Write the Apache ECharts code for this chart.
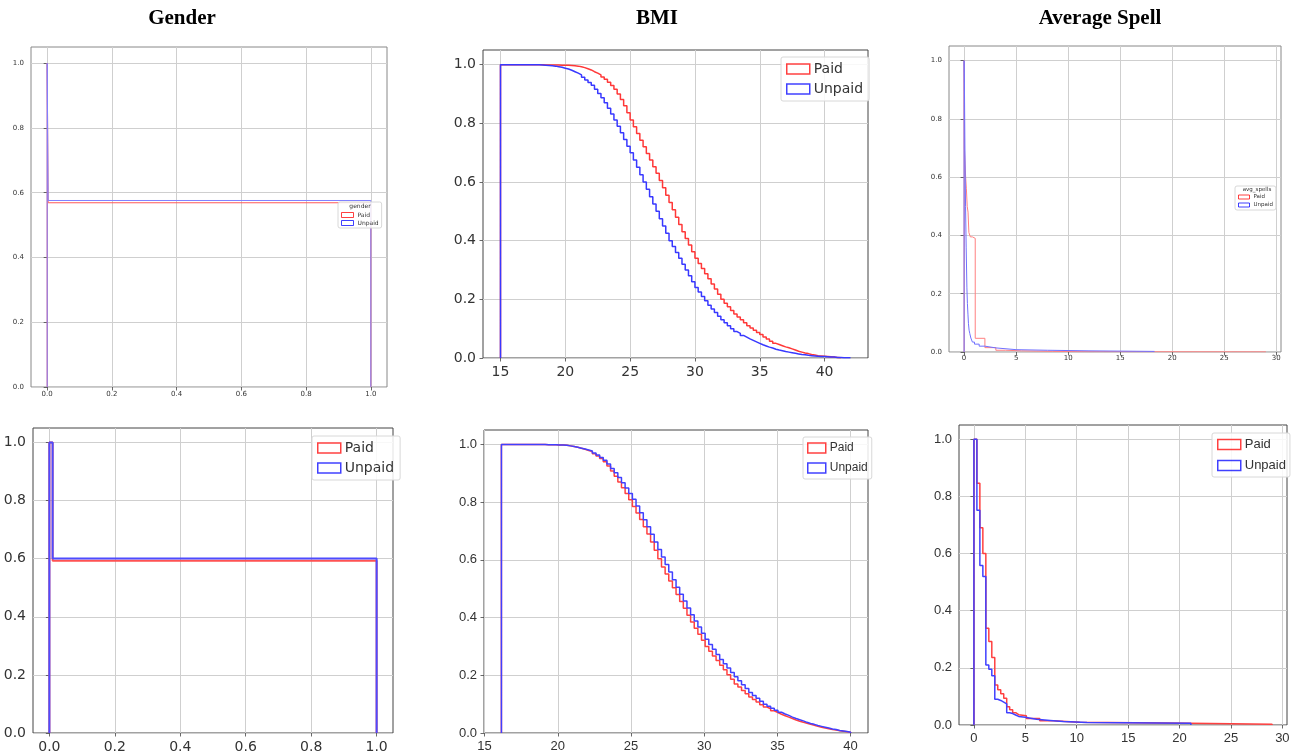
<!DOCTYPE html>
<html>
<head>
<meta charset="utf-8">
<script src="https://cdn.jsdelivr.net/npm/echarts@6/dist/echarts.min.js"></script>
<style>
  html, body { margin: 0; padding: 0; background: #ffffff; }
  #chart { width: 1301px; height: 755px; }
</style>
</head>
<body>
<div id="chart"></div>
<script>
// ---------- tick labels ----------
const shareTicks = [0, 0.2, 0.4, 0.6, 0.8, 1.0];
const genderTicks = [0, 0.2, 0.4, 0.6, 0.8, 1.0];
const bmiTicks = [15, 20, 25, 30, 35, 40];
const spellTicks = [0, 5, 10, 15, 20, 25, 30];

// ---------- Gender: bin edges and survival values ----------
const genderTopEdges = [0, 0.003, 1.0];
const genderTopPaid = [1.0, 0.569];
const genderTopUnpaid = [1.0, 0.576];
const genderBottomEdges = [0, 0.01, 1.0];
const genderBottomPaid = [1.0, 0.593];
const genderBottomUnpaid = [1.0, 0.601];

// ---------- BMI: uniform bins, survival value per bin ----------
const bmiTopStart = 15;
const bmiTopWidth = 0.25;
const bmiTopPaid = [
  1, 1, 1, 1,
  1, 1, 1, 1,
  1, 1, 1, 1,
  1, .999, .999, .999,
  .999, .999, .998, .998,
  .998, .997, .996, .995,
  .993, .990, .986, .982,
  .976, .971, .965, .958,
  .950, .940, .929, .916,
  .900, .881, .860, .836,
  .811, .788, .765, .742,
  .720, .697, .675, .652,
  .630, .605, .580, .555,
  .530, .505, .480, .455,
  .430, .407, .385, .362,
  .340, .322, .305, .287,
  .270, .252, .235, .217,
  .200, .187, .175, .162,
  .150, .140, .130, .120,
  .110, .102, .095, .087,
  .080, .072, .065, .057,
  .050, .046, .042, .038,
  .035, .031, .027, .023,
  .020, .017, .015, .012,
  .010, .008, .007, .006,
  .005, .004, .003, .002,
  .001
];
const bmiTopUnpaid = [
  1, 1, 1, 1,
  1, 1, 1, 1,
  1, 1, 1, 1,
  .999, .998, .997, .996,
  .995, .993, .991, .988,
  .985, .981, .976, .971,
  .965, .957, .948, .939,
  .930, .916, .902, .887,
  .870, .851, .832, .811,
  .790, .768, .745, .722,
  .700, .675, .650, .625,
  .600, .575, .550, .525,
  .500, .475, .450, .425,
  .400, .380, .360, .340,
  .320, .300, .280, .260,
  .240, .225, .210, .195,
  .180, .167, .155, .142,
  .130, .120, .110, .100,
  .090, .084, .077, .071,
  .065, .060, .055, .050,
  .045, .041, .037, .034,
  .030, .027, .025, .022,
  .020, .018, .016, .014,
  .012, .011, .009, .008,
  .007, .006, .005, .005,
  .004, .003, .003, .002,
  .002, .001, .001, .001
];
const bmiBottomStart = 16.15;
const bmiBottomWidth = 0.2485;
const bmiBottomPaid = [
  1, 1, 1, 1,
  1, 1, 1, 1,
  1, 1, 1, 1,
  .999, .999, .999, .998,
  .998, .997, .995, .993,
  .990, .987, .983, .979,
  .975, .968, .960, .951,
  .940, .925, .908, .890,
  .870, .850, .830, .808,
  .785, .762, .740, .715,
  .690, .662, .633, .604,
  .575, .551, .527, .503,
  .480, .456, .432, .408,
  .385, .363, .342, .321,
  .300, .283, .267, .251,
  .235, .219, .202, .186,
  .170, .159, .147, .136,
  .125, .116, .107, .098,
  .090, .084, .077, .071,
  .065, .060, .055, .050,
  .045, .041, .037, .034,
  .030, .027, .023, .020,
  .017, .015, .012, .010,
  .008, .006, .004, .003
];
const bmiBottomUnpaid = [
  1, 1, 1, 1,
  1, 1, 1, 1,
  1, 1, 1, 1,
  .999, .999, .999, .998,
  .998, .997, .995, .993,
  .990, .987, .984, .981,
  .977, .970, .963, .955,
  .945, .932, .917, .902,
  .885, .867, .849, .830,
  .810, .787, .763, .739,
  .715, .689, .662, .636,
  .610, .584, .558, .531,
  .505, .481, .457, .433,
  .410, .388, .367, .346,
  .325, .307, .290, .272,
  .255, .240, .225, .210,
  .195, .181, .167, .154,
  .140, .130, .120, .110,
  .100, .093, .086, .079,
  .072, .066, .061, .055,
  .050, .046, .042, .037,
  .033, .030, .026, .023,
  .020, .017, .014, .012,
  .009, .007, .005, .003
];

// ---------- Average spell: [bin start, survival value] ----------
const spellTopPaid = [
  [0, 1.0], [0.03, 0.70], [0.15, 0.60], [0.22, 0.56], [0.3, 0.50], [0.38, 0.48],
  [0.46, 0.41], [0.6, 0.395], [0.8, 0.39], [1.07, 0.047], [2.0, 0.015], [3.05, 0.006],
  [4.0, 0.004], [5.5, 0.003], [7.0, 0.002], [8.5, 0.001], [12.0, 0.0005]
];
const spellTopPaidEnd = 29;
const spellTopUnpaid = [
  [0, 1.0], [0.03, 0.93], [0.08, 0.70], [0.14, 0.50], [0.2, 0.36], [0.27, 0.22],
  [0.32, 0.166], [0.37, 0.13], [0.42, 0.097], [0.48, 0.075], [0.55, 0.063], [0.65, 0.048],
  [0.8, 0.034], [1.0, 0.027], [1.45, 0.02], [2.0, 0.014], [3.06, 0.008], [5.0, 0.006],
  [8.0, 0.004], [12.0, 0.002]
];
const spellTopUnpaidEnd = 18.3;
const spellBottomPaid = [
  [0, 1.0], [0.29, 0.846], [0.58, 0.69], [0.87, 0.60], [1.16, 0.339], [1.45, 0.292],
  [1.74, 0.236], [2.03, 0.14], [2.32, 0.123], [2.61, 0.109], [2.90, 0.094], [3.19, 0.064],
  [3.48, 0.053], [3.77, 0.043], [4.06, 0.036], [4.35, 0.032], [5.1, 0.023], [6.4, 0.015],
  [7.7, 0.01], [10.3, 0.006], [21.0, 0.003]
];
const spellBottomPaidEnd = 29;
const spellBottomUnpaid = [
  [0, 1.0], [0.29, 0.752], [0.58, 0.558], [0.87, 0.52], [1.16, 0.21], [1.45, 0.195],
  [1.74, 0.172], [2.03, 0.09], [2.32, 0.086], [2.61, 0.08], [2.90, 0.074], [3.19, 0.043],
  [3.48, 0.04], [3.77, 0.035], [4.06, 0.03], [4.35, 0.027], [5.0, 0.024], [5.5, 0.02],
  [6.1, 0.016], [7.4, 0.012], [8.7, 0.009], [11.0, 0.006]
];
const spellBottomUnpaidEnd = 21.1;

// ---------- step-histogram outline builders ----------
function outline(starts, values, end) {
  const pts = [[starts[0], 0]];
  for (let i = 0; i < values.length; i++) {
    const x1 = i + 1 < values.length ? starts[i + 1] : end;
    pts.push([starts[i], values[i]], [x1, values[i]]);
  }
  pts.push([end, 0]);
  return pts;
}
function fromEdges(edges, values) {
  return outline(edges.slice(0, values.length), values, edges[values.length]);
}
function fromUniform(start, width, values) {
  const starts = values.map((_, i) => start + i * width);
  return outline(starts, values, start + values.length * width);
}
function fromPairs(pairs, end) {
  return outline(pairs.map(p => p[0]), pairs.map(p => p[1]), end);
}

// ---------- panel layout ----------
const SANS = "'DejaVu Sans', sans-serif";
const LIB = "'Liberation Sans', Arial, sans-serif";
const fmt1 = v => (+v).toFixed(1);
const fmt0 = v => String(Math.round(v));

const panels = [
  { grid: { left: 31, top: 47, width: 356, height: 340 }, x: [-0.05, 1.05], xTicks: genderTicks, xFmt: fmt1,
    font: 7, family: SANS, xMargin: 4, yMargin: 7, border: '#888', lw: 1, colors: ['#ff5a5a', '#8080ff'],
    paid: fromEdges(genderTopEdges, genderTopPaid), unpaid: fromEdges(genderTopEdges, genderTopUnpaid),
    legend: { left: 338, top: 202, font: 6, iw: 12, ih: 5, gap: 2, pad: [10, 3, 2, 3], bw: 1, title: 'gender' } },
  { grid: { left: 483, top: 50, width: 385, height: 308 }, x: [13.65, 43.35], xTicks: bmiTicks, xFmt: fmt0,
    font: 14, family: SANS, xMargin: 7, yMargin: 7, border: '#444', lw: 1.5, colors: ['#ff3838', '#3838ff'],
    paid: fromUniform(bmiTopStart, bmiTopWidth, bmiTopPaid), unpaid: fromUniform(bmiTopStart, bmiTopWidth, bmiTopUnpaid),
    legend: { left: 781, top: 57, font: 14, iw: 23, ih: 10, gap: 6, pad: [5, 6, 5, 5], bw: 1.5 } },
  { grid: { left: 949, top: 46, width: 332, height: 306 }, x: [-1.45, 30.45], xTicks: spellTicks, xFmt: fmt0,
    font: 7, family: SANS, xMargin: 3, yMargin: 7, border: '#888', lw: 1, colors: ['#ff8080', '#7070ff'],
    paid: fromPairs(spellTopPaid, spellTopPaidEnd), unpaid: fromPairs(spellTopUnpaid, spellTopUnpaidEnd),
    legend: { left: 1235, top: 186, font: 5.5, iw: 11, ih: 4, gap: 2, pad: [8, 3, 2, 3], bw: 1, title: 'avg_spells' } },
  { grid: { left: 33, top: 428, width: 360, height: 305 }, x: [-0.05, 1.05], xTicks: genderTicks, xFmt: fmt1,
    font: 14, family: SANS, xMargin: 7, yMargin: 7, border: '#444', lw: 2, colors: ['#ff5252', '#4c4cff'],
    paid: fromEdges(genderBottomEdges, genderBottomPaid), unpaid: fromEdges(genderBottomEdges, genderBottomUnpaid),
    legend: { left: 312, top: 436, font: 14, iw: 23, ih: 10, gap: 6, pad: [5, 6, 5, 5], bw: 1.5 } },
  { grid: { left: 484, top: 430, width: 384, height: 303 }, x: [14.96, 41.19], xTicks: bmiTicks, xFmt: fmt0,
    font: 13, family: LIB, xMargin: 7, yMargin: 7, border: '#444', lw: 1.5, colors: ['#ff4040', '#4040ff'],
    paid: fromUniform(bmiBottomStart, bmiBottomWidth, bmiBottomPaid), unpaid: fromUniform(bmiBottomStart, bmiBottomWidth, bmiBottomUnpaid),
    legend: { left: 803, top: 437, font: 12, iw: 18, ih: 10, gap: 8, pad: [5, 4, 5, 4], bw: 1.5, family: LIB } },
  { grid: { left: 959, top: 425, width: 328, height: 300 }, x: [-1.45, 30.45], xTicks: spellTicks, xFmt: fmt0,
    font: 13, family: LIB, xMargin: 7, yMargin: 7, border: '#444', lw: 1.5, colors: ['#ff4040', '#4040ff'],
    paid: fromPairs(spellBottomPaid, spellBottomPaidEnd), unpaid: fromPairs(spellBottomUnpaid, spellBottomUnpaidEnd),
    legend: { left: 1212, top: 433, font: 13, iw: 23, ih: 10, gap: 8, pad: [5, 4, 5, 5], bw: 1.5, family: LIB } }
];

const panelTitles = [
  { text: 'Gender', x: 182 },
  { text: 'BMI', x: 657 },
  { text: 'Average Spell', x: 1100 }
];

// ---------- build option ----------
const grids = [], xAxes = [], yAxes = [], series = [], legends = [], graphics = [];
panels.forEach((p, i) => {
  grids.push(Object.assign({ show: true, borderColor: p.border, borderWidth: 1, backgroundColor: '#fff' }, p.grid));
  const tickStyle = { show: true, inside: false, length: 3.5, lineStyle: { color: '#444', width: 0.8 } };
  const gridLine = { show: true, lineStyle: { color: '#cfcfcf', width: 1 } };
  xAxes.push({
    gridIndex: i, type: 'value', min: p.x[0], max: p.x[1],
    axisLine: { show: false },
    axisTick: Object.assign({ customValues: p.xTicks }, tickStyle),
    axisLabel: { customValues: p.xTicks, formatter: p.xFmt, fontSize: p.font, fontFamily: p.family, color: '#333', margin: p.xMargin },
    splitLine: gridLine
  });
  yAxes.push({
    gridIndex: i, type: 'value', min: 0, max: 1.05,
    axisLine: { show: false },
    axisTick: Object.assign({ customValues: shareTicks }, tickStyle),
    axisLabel: { customValues: shareTicks, formatter: fmt1, fontSize: p.font, fontFamily: p.family, color: '#333', margin: p.yMargin },
    splitLine: gridLine
  });
  [['Paid', p.colors[0], p.paid], ['Unpaid', p.colors[1], p.unpaid]].forEach(([name, color, data]) => {
    series.push({
      type: 'line', name, xAxisIndex: i, yAxisIndex: i, data,
      showSymbol: false, symbol: 'none', silent: true, animation: false,
      lineStyle: { color, width: p.lw },
      itemStyle: { color }
    });
  });
  const L = p.legend;
  legends.push({
    orient: 'vertical', left: L.left, top: L.top, padding: L.pad,
    itemWidth: L.iw, itemHeight: L.ih, itemGap: L.gap, selectedMode: false,
    backgroundColor: 'rgba(255,255,255,0.85)', borderColor: '#d8d8d8', borderWidth: 1, borderRadius: 2,
    textStyle: { fontSize: L.font, fontFamily: L.family || SANS, color: '#333', padding: [0, 0, 0, -1] },
    data: [
      { name: 'Paid', icon: 'rect', itemStyle: { color: 'rgba(255,255,255,0)', borderColor: 'rgba(255,0,0,0.75)', borderWidth: L.bw, opacity: 1 } },
      { name: 'Unpaid', icon: 'rect', itemStyle: { color: 'rgba(255,255,255,0)', borderColor: 'rgba(0,0,255,0.75)', borderWidth: L.bw, opacity: 1 } }
    ]
  });
  if (L.title) {
    graphics.push({
      type: 'text', z: 100, x: L.left + 22, y: L.top + 1,
      style: { text: L.title, fontSize: L.font, fontFamily: SANS, fill: '#333', align: 'center', textAlign: 'center' }
    });
  }
});
panelTitles.forEach(t => {
  graphics.push({
    type: 'text', x: t.x, y: 8,
    style: { text: t.text, fontSize: 21, fontWeight: 'bold', fontFamily: "'Liberation Serif', 'Times New Roman', serif", fill: '#000', align: 'center', textAlign: 'center' }
  });
});

const chart = echarts.init(document.getElementById('chart'), null, { renderer: 'canvas' });
chart.setOption({
  backgroundColor: '#ffffff',
  animation: false,
  grid: grids,
  xAxis: xAxes,
  yAxis: yAxes,
  legend: legends,
  series,
  graphic: graphics
});
</script>
</body>
</html>
